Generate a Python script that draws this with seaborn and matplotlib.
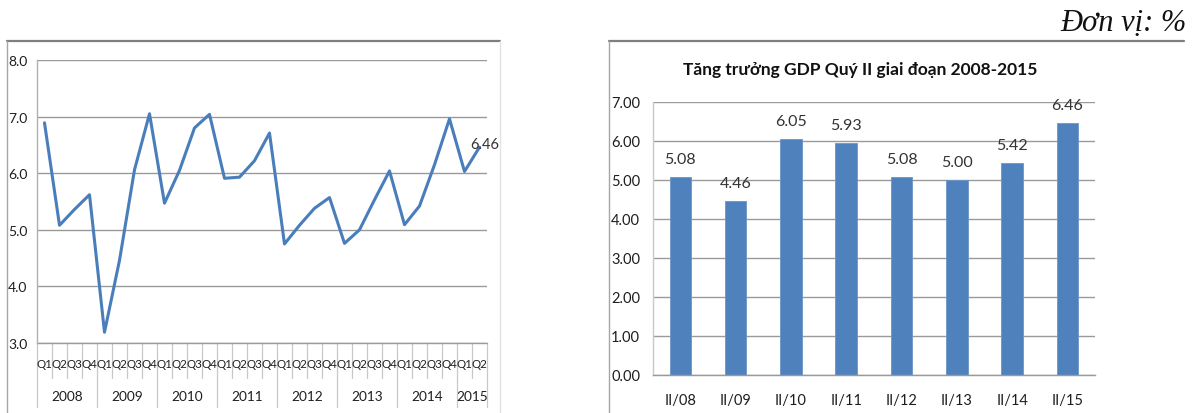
import numpy as np
import pandas as pd
import matplotlib
matplotlib.use("Agg")
import matplotlib.pyplot as plt
from matplotlib import font_manager
from matplotlib.lines import Line2D
import seaborn as sns

# Quarterly GDP growth (%), 2008 Q1 - 2015 Q2
years = ["2008", "2009", "2010", "2011", "2012", "2013", "2014", "2015"]
quarters_per_year = [4, 4, 4, 4, 4, 4, 4, 2]
quarterly_growth = [6.89, 5.08, 5.36, 5.62,
                    3.19, 4.46, 6.06, 7.05,
                    5.47, 6.05, 6.80, 7.04,
                    5.91, 5.93, 6.22, 6.71,
                    4.75, 5.08, 5.38, 5.57,
                    4.76, 5.00, 5.53, 6.04,
                    5.09, 5.42, 6.15, 6.96,
                    6.03, 6.46]

# Second-quarter growth by year
q2_labels = ["II/08", "II/09", "II/10", "II/11", "II/12", "II/13", "II/14", "II/15"]
q2_growth = [5.08, 4.46, 6.05, 5.93, 5.08, 5.00, 5.42, 6.46]

W, H = 1198, 414
installed = {f.name for f in font_manager.fontManager.ttflist}


def pick(*names):
    for n in names:
        if n in installed:
            return n
    return "DejaVu Sans"


SANS = pick("Lato", "Open Sans", "Liberation Sans")
NARROW = pick("Liberation Sans Narrow", "Lato", "Liberation Sans")
SERIF = pick("Liberation Serif", "DejaVu Serif")

sns.set_theme(style="white")
plt.rcParams["font.family"] = [SANS, "DejaVu Sans"]

fig = plt.figure(figsize=(W / 100, H / 100), dpi=100)
fig.patch.set_facecolor("white")


def fx(x):
    return x / W


def fy(y):
    return 1 - y / H


def axes_px(x0, y0, x1, y1):
    return fig.add_axes([fx(x0), fy(y1), fx(x1) - fx(x0), (y1 - y0) / H])


GRID = "#9a9a9a"
LINE_BLUE = "#4a7ebb"
BAR_BLUE = "#4f81bd"
TXT = "#1e1e1e"

# ---- frames around the two panels ----
fig.add_artist(Line2D([fx(7), fx(500)], [fy(42), fy(42)], color="#7f7f7f", lw=1.6))
fig.add_artist(Line2D([fx(7), fx(7)], [fy(42), fy(414)], color="#a6a6a6", lw=1.0))
fig.add_artist(Line2D([fx(500), fx(500)], [fy(42), fy(414)], color="#e3e3e3", lw=1.0))
fig.add_artist(Line2D([fx(609), fx(1184)], [fy(42), fy(42)], color="#7f7f7f", lw=1.6))
fig.add_artist(Line2D([fx(609), fx(609)], [fy(42), fy(414)], color="#a6a6a6", lw=1.0))

# ---- left panel: quarterly line ----
qlabels = []
for y, n in zip(years, quarters_per_year):
    qlabels += [f"Q{i + 1}" for i in range(n)]
df_q = pd.DataFrame({"idx": np.arange(len(quarterly_growth)),
                     "growth": quarterly_growth})

ax1 = axes_px(37, 61, 487, 344)
sns.lineplot(data=df_q, x="idx", y="growth", ax=ax1, color=LINE_BLUE,
             lw=2.2, clip_on=False)
n_q = len(quarterly_growth)
ax1.set_xlim(-0.5, n_q - 0.5)
ax1.set_ylim(3.0, 8.0)
ax1.set_yticks(np.arange(3.0, 8.01, 1.0))
ax1.set_yticklabels([f"{v:.1f}" for v in np.arange(3.0, 8.01, 1.0)],
                    fontsize=10, color=TXT)
ax1.yaxis.grid(True, color=GRID, lw=1.0)
ax1.set_axisbelow(True)
ax1.set_xticks([])
ax1.set_xlabel("")
ax1.set_ylabel("")
for s in ["top", "right", "bottom"]:
    ax1.spines[s].set_visible(False)
ax1.spines["left"].set_color("#b0b0b0")
ax1.spines["left"].set_linewidth(1.0)
ax1.tick_params(axis="y", length=0, pad=7)

ax1.annotate(f"{quarterly_growth[-1]:.2f}", (n_q - 1, quarterly_growth[-1]),
             xytext=(4, 2), textcoords="offset points", ha="center", va="center",
             fontsize=10.5, color="#333333", annotation_clip=False)

# category labels under the line chart (quarters and year groups)
tr = ax1.get_xaxis_transform()
ax_h_px = 344 - 61


def below(px):
    return -px / ax_h_px


for i, lab in enumerate(qlabels):
    ax1.text(i, below(21), lab, transform=tr, ha="center", va="center",
             fontsize=8.3, color=TXT, family=[NARROW, "DejaVu Sans"])
boundaries = np.cumsum([0] + quarters_per_year)
for b in range(n_q + 1):
    long_tick = b in boundaries
    ax1.add_line(Line2D([b - 0.5, b - 0.5], [0, below(64 if long_tick else 35)],
                        transform=tr, color="#c8c8c8", lw=0.9, clip_on=False))
for y, s, n in zip(years, boundaries[:-1], quarters_per_year):
    ax1.text(s + n / 2 - 0.5, below(53), y, transform=tr, ha="center",
             va="center", fontsize=9.8, color=TXT,
             family=[NARROW, "DejaVu Sans"])
ax1.add_line(Line2D([-0.5, n_q - 0.5], [0, 0], transform=tr, color=GRID,
                    lw=1.0, clip_on=False))

# ---- right panel: Q2 bars ----
df_b = pd.DataFrame({"period": q2_labels, "growth": q2_growth})
ax2 = axes_px(652.7, 102.7, 1095, 376)
sns.barplot(data=df_b, x="period", y="growth", ax=ax2, color=BAR_BLUE,
            width=0.39, saturation=1, edgecolor="#6a96c8", linewidth=0.6)
ax2.set_ylim(0, 7)
ax2.set_xlim(-0.5, len(q2_labels) - 0.5)
ax2.set_yticks(np.arange(0, 7.01, 1.0))
ax2.set_yticklabels([f"{v:.2f}" for v in np.arange(0, 7.01, 1.0)],
                    fontsize=10.5, color=TXT)
ax2.yaxis.grid(True, color=GRID, lw=1.0)
ax2.set_axisbelow(True)
ax2.set_xlabel("")
ax2.set_ylabel("")
ax2.tick_params(axis="y", length=0, pad=9)
ax2.tick_params(axis="x", length=0, pad=13, labelsize=10.5, labelcolor=TXT)
for s in ["top", "right"]:
    ax2.spines[s].set_visible(False)
ax2.spines["left"].set_color("#c8c8c8")
ax2.spines["bottom"].set_color(GRID)
ax2.spines["left"].set_linewidth(1.0)
ax2.spines["bottom"].set_linewidth(1.0)
for lbl in ax2.get_xticklabels():
    lbl.set_family([NARROW, "DejaVu Sans"])

for i, v in enumerate(q2_growth):
    ax2.annotate(f"{v:.2f}", (i, v), xytext=(0, 13), textcoords="offset points",
                 ha="center", va="center", fontsize=11.5, color="#333333")

fig.text(fx(860), fy(70), "Tăng trưởng GDP Quý II giai đoạn 2008-2015",
         ha="center", va="center", fontsize=12.5, fontweight="bold",
         color="#111111")
fig.text(fx(1187), fy(31), "Đơn vị: %", ha="right", va="baseline",
         fontsize=22, style="italic", family=[SERIF, "DejaVu Serif"],
         color="#111111")

fig.savefig("out.png", dpi=100, facecolor="white")
